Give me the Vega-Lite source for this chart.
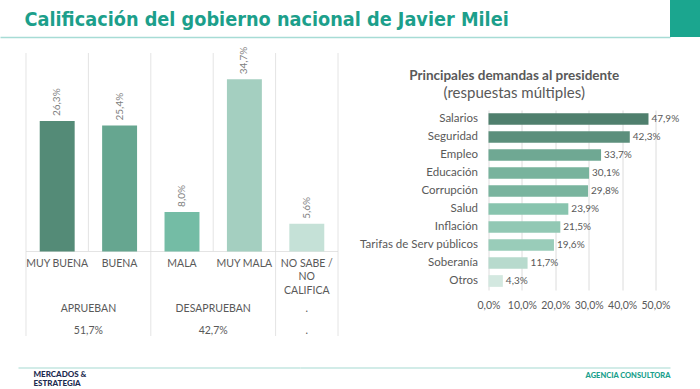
{
  "$schema": "https://vega.github.io/schema/vega-lite/v6.json",
  "padding": 0,
  "autosize": {"type": "pad"},
  "background": "white",
  "config": {
    "view": {"stroke": null},
    "font": "Lato",
    "locale": {"number": {"decimal": ",", "thousands": ".", "grouping": [3], "currency": ["$", ""]}}
  },
  "columns": 1,
  "bounds": "full",
  "spacing": 9,
  "concat": [
    {
      "width": 670,
      "height": 37,
      "data": {"values": [{"logo": "M&E"}]},
      "mark": {"type": "rect", "color": "#1ba68f"},
      "encoding": {
        "x": {"datum": 1, "type": "quantitative", "scale": {"domain": [0, 1], "nice": false},
          "axis": {"labels": false, "ticks": false, "grid": false, "title": null, "domainColor": "#a7dcd5", "domainWidth": 1.5}},
        "x2": {"datum": 1.04478},
        "y": {"datum": 0, "type": "quantitative", "scale": {"domain": [0, 1], "nice": false},
          "axis": {"labels": false, "ticks": false, "grid": false, "domain": false, "minExtent": 0, "maxExtent": 0,
            "title": "Calificación del gobierno nacional de Javier Milei",
            "titleAngle": 0, "titleX": 24, "titleY": 25, "titleAlign": "left", "titleBaseline": "alphabetic",
            "titleFont": "'Liberation Sans Narrow', 'DejaVu Sans Condensed', sans-serif",
            "titleFontSize": 19.7, "titleFontWeight": "bold", "titleColor": "#1c9f8b"}},
        "y2": {"datum": 1}
      }
    },
    {
      "columns": 1,
      "bounds": "full",
      "spacing": 23.5,
      "concat": [
        {
          "columns": 2,
          "bounds": "full",
          "spacing": 19.5,
          "concat": [
            {
              "width": 338,
              "height": 283,
              "layer": [
                {
                  "data": {"values": [{"cat": "MUY BUENA"}, {"cat": "MALA"}, {"cat": "NO SABE /\nNO\nCALIFICA"}]},
                  "mark": {"type": "rule", "color": "#e4e4e4", "strokeWidth": 1},
                  "encoding": {
                    "x": {"field": "cat", "type": "nominal", "bandPosition": 0,
                      "scale": {"domain": ["MUY BUENA", "BUENA", "MALA", "MUY MALA", "NO SABE /\nNO\nCALIFICA"], "paddingInner": 0, "paddingOuter": 0.2083, "align": 1},
                      "axis": null},
                    "y": {"datum": -0.17, "type": "quantitative", "scale": {"domain": [-0.17, 0.4], "nice": false, "zero": false}, "axis": null},
                    "y2": {"datum": 0.4}
                  }
                },
                {
                  "data": {"values": [{"cat": "NO SABE /\nNO\nCALIFICA"}]},
                  "mark": {"type": "rule", "color": "#e4e4e4", "strokeWidth": 1},
                  "encoding": {
                    "x": {"field": "cat", "type": "nominal", "bandPosition": 1},
                    "y": {"datum": -0.17, "type": "quantitative"},
                    "y2": {"datum": 0.4}
                  }
                },
                {
                  "data": {"values": [{"cat": "BUENA"}, {"cat": "MUY MALA"}]},
                  "mark": {"type": "rule", "color": "#e4e4e4", "strokeWidth": 1},
                  "encoding": {
                    "x": {"field": "cat", "type": "nominal", "bandPosition": 0},
                    "y": {"datum": 0, "type": "quantitative"},
                    "y2": {"datum": 0.4}
                  }
                },
                {
                  "data": {"name": "calif", "values": [
                    {"cat": "MUY BUENA", "v": 0.263},
                    {"cat": "BUENA", "v": 0.254},
                    {"cat": "MALA", "v": 0.080},
                    {"cat": "MUY MALA", "v": 0.347},
                    {"cat": "NO SABE /\nNO\nCALIFICA", "v": 0.056}
                  ]},
                  "layer": [
                    {
                      "mark": {"type": "tick", "orient": "horizontal", "size": 62.4, "thickness": 1, "color": "#d9d9d9"},
                      "encoding": {
                        "x": {"field": "cat", "type": "nominal"},
                        "y": {"datum": 0, "type": "quantitative"}
                      }
                    },
                    {
                      "mark": {"type": "bar", "width": {"band": 0.56}},
                      "encoding": {
                        "x": {"field": "cat", "type": "nominal"},
                        "y": {"field": "v", "type": "quantitative"},
                        "color": {"field": "cat", "type": "nominal", "legend": null,
                          "scale": {"domain": ["MUY BUENA", "BUENA", "MALA", "MUY MALA", "NO SABE /\nNO\nCALIFICA"], "range": ["#548b77", "#66a690", "#74bca5", "#a4cfc0", "#c5e1d7"]}}
                      }
                    },
                    {
                      "mark": {"type": "text", "angle": 270, "align": "left", "baseline": "middle", "dx": 5, "font": "Lato", "fontSize": 10, "color": "#808080"},
                      "encoding": {
                        "x": {"field": "cat", "type": "nominal"},
                        "y": {"field": "v", "type": "quantitative"},
                        "text": {"field": "v", "type": "quantitative", "format": ".1%"}
                      }
                    },
                    {
                      "mark": {"type": "text", "align": "center", "baseline": "top", "lineBreak": "\n", "lineHeight": 13.3, "font": "Lato", "fontSize": 10.5, "color": "#595959"},
                      "encoding": {
                        "x": {"field": "cat", "type": "nominal"},
                        "y": {"datum": -0.015, "type": "quantitative"},
                        "text": {"field": "cat", "type": "nominal"}
                      }
                    }
                  ]
                },
                {
                  "data": {"values": [
                    {"anchor": "MUY BUENA", "grp": "APRUEBAN", "tot": "51,7%"},
                    {"anchor": "MALA", "grp": "DESAPRUEBAN", "tot": "42,7%"}
                  ]},
                  "layer": [
                    {
                      "mark": {"type": "text", "align": "center", "baseline": "top", "font": "Lato", "fontSize": 10.5, "color": "#595959"},
                      "encoding": {
                        "x": {"field": "anchor", "type": "nominal", "bandPosition": 1},
                        "y": {"datum": -0.106, "type": "quantitative"},
                        "text": {"field": "grp", "type": "nominal"}
                      }
                    },
                    {
                      "mark": {"type": "text", "align": "center", "baseline": "top", "font": "Lato", "fontSize": 10.5, "color": "#595959"},
                      "encoding": {
                        "x": {"field": "anchor", "type": "nominal", "bandPosition": 1},
                        "y": {"datum": -0.15, "type": "quantitative"},
                        "text": {"field": "tot", "type": "nominal"}
                      }
                    }
                  ]
                },
                {
                  "data": {"values": [
                    {"anchor": "NO SABE /\nNO\nCALIFICA", "grp": ".", "tot": "."}
                  ]},
                  "layer": [
                    {
                      "mark": {"type": "text", "align": "center", "baseline": "top", "font": "Lato", "fontSize": 10.5, "color": "#595959"},
                      "encoding": {
                        "x": {"field": "anchor", "type": "nominal", "bandPosition": 0.5},
                        "y": {"datum": -0.106, "type": "quantitative"},
                        "text": {"field": "grp", "type": "nominal"}
                      }
                    },
                    {
                      "mark": {"type": "text", "align": "center", "baseline": "top", "font": "Lato", "fontSize": 10.5, "color": "#595959"},
                      "encoding": {
                        "x": {"field": "anchor", "type": "nominal", "bandPosition": 0.5},
                        "y": {"datum": -0.15, "type": "quantitative"},
                        "text": {"field": "tot", "type": "nominal"}
                      }
                    }
                  ]
                }
              ]
            },
            {
              "columns": 1,
              "bounds": "full",
              "spacing": 9,
              "concat": [
                {
                  "width": 1,
                  "height": 1,
                  "view": {"fill": "white", "stroke": null},
                  "data": {"values": [{"a": 0}]},
                  "mark": {"type": "text", "text": ""},
                  "encoding": {}
                },
                {
                  "width": 167,
                  "height": 180,
                  "title": {
                    "text": "Principales demandas al presidente",
                    "subtitle": "(respuestas múltiples)",
                    "anchor": "middle",
                    "frame": "bounds",
                    "dx": -5,
                    "font": "Lato",
                    "fontSize": 13.5,
                    "fontWeight": "bold",
                    "color": "#595959",
                    "subtitleFont": "Lato",
                    "subtitleFontSize": 15,
                    "subtitleColor": "#595959",
                    "subtitlePadding": 4,
                    "offset": 9
                  },
                  "data": {"values": [
                    {"d": "Salarios", "v": 0.479},
                    {"d": "Seguridad", "v": 0.423},
                    {"d": "Empleo", "v": 0.337},
                    {"d": "Educación", "v": 0.301},
                    {"d": "Corrupción", "v": 0.298},
                    {"d": "Salud", "v": 0.239},
                    {"d": "Inflación", "v": 0.215},
                    {"d": "Tarifas de Serv públicos", "v": 0.196},
                    {"d": "Soberanía", "v": 0.117},
                    {"d": "Otros", "v": 0.043}
                  ]},
                  "encoding": {
                    "y": {"field": "d", "type": "nominal", "sort": null,
                      "scale": {"paddingInner": 0.35, "paddingOuter": 0.175},
                      "axis": {"title": null, "domain": false, "ticks": false, "labelFont": "Lato", "labelFontSize": 11.5, "labelColor": "#595959", "labelPadding": 11, "minExtent": 126, "maxExtent": 126}},
                    "x": {"field": "v", "type": "quantitative",
                      "scale": {"domain": [0, 0.5], "nice": false},
                      "axis": {"title": null, "domain": false, "ticks": false, "values": [0, 0.1, 0.2, 0.3, 0.4, 0.5], "format": ".1%", "labelFont": "Lato", "labelFontSize": 10.5, "labelColor": "#595959", "labelPadding": 10, "labelFlush": false, "labelBound": false, "labelOverlap": false, "grid": true, "gridColor": "#dcdcdc"}}
                  },
                  "layer": [
                    {
                      "mark": {"type": "bar"},
                      "encoding": {
                        "color": {"field": "v", "type": "quantitative", "legend": null,
                          "scale": {"domain": [0.043, 0.25, 0.479], "range": ["#d3e8e0", "#84c2ab", "#4f7f6d"]}}
                      }
                    },
                    {
                      "mark": {"type": "text", "align": "left", "baseline": "middle", "dx": 3, "font": "Lato", "fontSize": 10, "color": "#595959"},
                      "encoding": {
                        "text": {"field": "v", "type": "quantitative", "format": ".1%"}
                      }
                    }
                  ]
                }
              ]
            }
          ]
        },
        {
          "columns": 2,
          "bounds": "full",
          "spacing": 0,
          "concat": [
            {
              "width": 300,
              "height": 1,
              "data": {"values": [{"a": 0}]},
              "mark": {"type": "text", "text": ""},
              "encoding": {
                "x": {"field": "a", "type": "quantitative", "scale": {"domain": [0, 1], "range": [18, 300]},
                  "axis": {"labels": false, "ticks": false, "grid": false, "domainColor": "#c3e6e0", "domainWidth": 1.5,
                    "title": ["MERCADOS &", "ESTRATEGIA"],
                    "titleX": 33, "titleY": 3, "titleAngle": 0, "titleAlign": "left", "titleBaseline": "top",
                    "titleFont": "Lato", "titleFontSize": 8, "titleFontWeight": 900, "titleColor": "#1d2b4f", "titleLineHeight": 8.5}}
              }
            },
            {
              "width": 370,
              "height": 1,
              "data": {"values": [{"a": 0}]},
              "mark": {"type": "text", "text": ""},
              "encoding": {
                "x": {"field": "a", "type": "quantitative", "scale": {"domain": [0, 1]},
                  "axis": {"labels": false, "ticks": false, "grid": false, "domainColor": "#c3e6e0", "domainWidth": 1.5,
                    "title": "AGENCIA CONSULTORA",
                    "titleAnchor": "end", "titleAlign": "right", "titleFont": "Lato", "titleFontSize": 7.5, "titleFontWeight": 900, "titleColor": "#1a9f8c", "titlePadding": 4}}
              }
            }
          ]
        }
      ]
    }
  ]
}
